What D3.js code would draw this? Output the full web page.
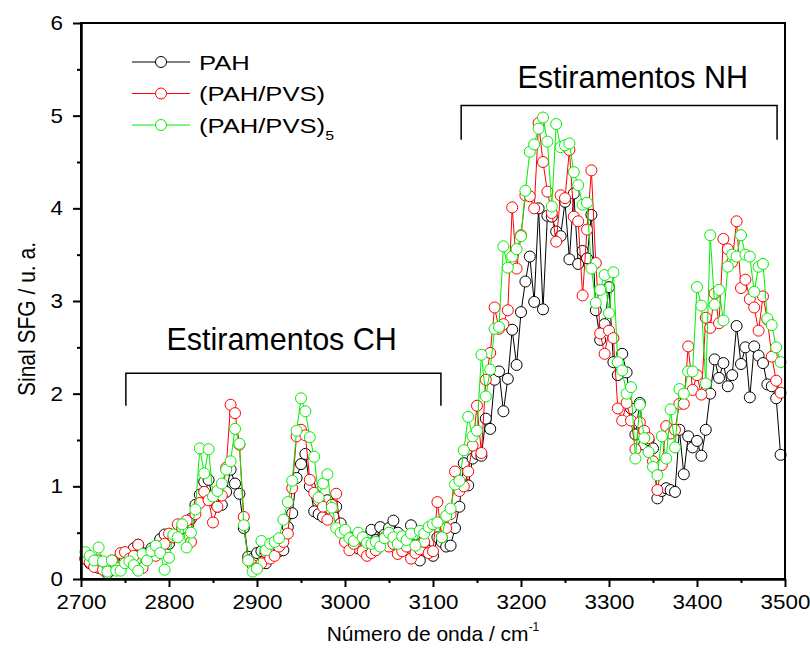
<!DOCTYPE html>
<html>
<head>
<meta charset="utf-8">
<script src="https://cdn.jsdelivr.net/npm/d3@7"></script>
<style>
  html, body { margin: 0; padding: 0; background: #fff; }
  svg { display: block; font-family: "Liberation Sans", Arial, sans-serif; }
</style>
</head>
<body>
<svg id="chart" width="810" height="660"></svg>
<script>
// ---- data ----
const wavenumbers = [
  2705,2710,2715,2720,2725,2730,2735,2740,2745,2750,
  2755,2760,2765,2770,2775,2780,2785,2790,2795,2800,
  2805,2810,2815,2820,2825,2830,2835,2840,2845,2850,
  2855,2860,2865,2870,2875,2880,2885,2890,2895,2900,
  2905,2910,2915,2920,2925,2930,2935,2940,2945,2950,
  2955,2960,2965,2970,2975,2980,2985,2990,2995,3000,
  3005,3010,3015,3020,3025,3030,3035,3040,3045,3050,
  3055,3060,3065,3070,3075,3080,3085,3090,3095,3100,
  3105,3110,3115,3120,3125,3130,3135,3140,3145,3150,
  3155,3160,3165,3170,3175,3180,3185,3190,3195,3200,
  3205,3210,3215,3220,3225,3230,3235,3240,3245,3250,
  3255,3260,3265,3270,3275,3280,3285,3290,3295,3300,
  3305,3310,3315,3320,3325,3330,3335,3340,3345,3350,
  3355,3360,3365,3370,3375,3380,3385,3390,3395,3400,
  3405,3410,3415,3420,3425,3430,3435,3440,3445,3450,
  3455,3460,3465,3470,3475,3480,3485,3490,3495
];
const pah = [
  0.22,0.17,0.15,0.12,0.14,0.06,0.18,0.20,0.17,0.22,
  0.25,0.33,0.37,0.28,0.27,0.33,0.30,0.43,0.48,0.38,
  0.45,0.50,0.55,0.58,0.65,0.80,0.91,1.05,1.07,0.85,
  0.78,0.80,0.94,1.18,1.03,0.92,0.55,0.24,0.22,0.28,
  0.30,0.17,0.30,0.33,0.30,0.31,0.56,0.71,1.09,1.24,
  1.35,1.00,0.73,0.70,0.67,0.85,0.80,0.78,0.60,0.48,
  0.45,0.40,0.33,0.36,0.45,0.53,0.42,0.56,0.48,0.55,
  0.63,0.50,0.45,0.42,0.58,0.48,0.20,0.35,0.30,0.25,
  0.45,0.40,0.35,0.36,0.55,0.78,1.25,1.01,1.30,1.35,
  1.33,1.73,1.62,2.15,2.24,1.81,2.16,2.69,2.31,2.88,
  3.21,3.48,2.99,4.00,2.91,3.92,3.91,3.75,3.70,4.07,
  3.45,4.16,3.40,3.54,3.46,3.93,2.90,2.58,2.75,3.15,
  2.34,2.20,2.43,2.23,1.84,1.56,1.90,1.45,1.50,1.41,
  0.87,0.95,0.98,0.96,0.94,1.61,1.13,1.54,1.42,1.49,
  1.33,1.61,2.00,2.37,2.17,2.33,2.08,2.20,2.73,2.32,
  2.50,1.96,2.51,2.41,2.33,2.10,2.08,1.95,1.34
];
const pahPvs = [
  0.22,0.18,0.13,0.20,0.10,0.15,0.20,0.12,0.28,0.29,
  0.22,0.25,0.37,0.12,0.22,0.30,0.25,0.35,0.38,0.49,
  0.45,0.59,0.55,0.63,0.40,0.70,0.82,0.94,0.85,0.61,
  0.78,0.90,1.20,1.88,1.79,1.45,0.67,0.20,0.15,0.12,
  0.17,0.29,0.22,0.25,0.35,0.40,0.49,0.98,1.54,1.61,
  1.55,1.07,0.93,0.85,0.78,0.64,0.80,0.92,0.51,0.40,
  0.31,0.38,0.46,0.30,0.25,0.28,0.31,0.40,0.45,0.35,
  0.38,0.27,0.30,0.35,0.22,0.28,0.32,0.40,0.28,0.30,
  0.83,0.45,0.55,0.70,1.16,0.95,1.00,1.16,1.44,1.87,
  1.36,2.15,2.44,2.93,2.70,2.75,2.90,4.01,3.35,3.71,
  4.14,4.13,4.00,4.92,4.50,4.18,3.95,3.64,4.14,4.11,
  4.63,3.91,3.86,3.06,3.77,4.41,3.41,2.65,2.43,2.68,
  2.60,1.84,1.71,1.90,1.71,1.40,1.69,1.60,1.52,1.27,
  0.96,1.23,1.65,1.57,1.61,1.89,1.89,2.51,2.04,2.20,
  1.99,2.82,2.71,3.08,2.76,3.67,3.56,3.42,3.86,3.14,
  3.23,3.02,2.93,2.68,3.05,2.80,2.40,2.14,2.01
];
const pahPvs5 = [
  0.29,0.25,0.20,0.34,0.19,0.08,0.20,0.09,0.09,0.17,
  0.19,0.15,0.09,0.27,0.20,0.30,0.36,0.28,0.10,0.23,
  0.48,0.45,0.59,0.34,0.50,0.75,1.41,1.14,1.40,0.89,
  0.95,1.03,1.18,1.27,1.62,1.46,0.58,0.20,0.08,0.11,
  0.41,0.31,0.38,0.40,0.44,0.64,0.83,1.06,1.60,1.95,
  1.81,1.53,1.32,0.88,1.03,1.13,0.77,0.55,0.50,0.53,
  0.44,0.41,0.50,0.45,0.39,0.38,0.40,0.35,0.44,0.50,
  0.45,0.38,0.46,0.42,0.49,0.36,0.52,0.49,0.56,0.59,
  0.61,0.45,0.68,0.76,1.02,1.06,1.39,1.75,1.54,1.60,
  2.42,1.97,2.26,2.70,2.72,3.59,3.36,3.48,3.56,3.70,
  4.19,4.61,4.69,4.86,4.98,4.72,4.02,4.91,4.66,4.68,
  4.70,4.39,4.25,4.04,4.06,3.35,2.98,3.12,3.28,2.87,
  3.31,2.34,2.25,2.00,2.07,1.30,1.88,1.52,1.37,1.21,
  1.12,1.54,1.30,1.83,1.42,2.05,2.00,2.24,2.24,3.15,
  2.95,2.11,3.71,2.96,3.12,2.79,3.37,3.50,3.48,3.71,
  3.50,3.48,3.10,3.37,3.40,2.81,2.74,2.50,2.34
];
const seriesNames = ["PAH", "(PAH/PVS)", "(PAH/PVS)"];
const seriesSubs = ["", "", "5"];
const seriesColors = ["#000000", "#ff0000", "#00f000"];
const xTicks = [2700, 2800, 2900, 3000, 3100, 3200, 3300, 3400, 3500];
const yTicks = [0, 1, 2, 3, 4, 5, 6];
const xDomain = [2700, 3500];
const yDomain = [0, 6];
// annotation brackets (data units): [x0, x1, yTop, yBottom, label, labelX, labelY]
const brackets = [
  [2751, 3109, 2.22, 1.87, "Estiramentos CH", 2928, 2.47],
  [3132, 3491, 5.11, 4.74, "Estiramentos NH", 3327, 5.30]
];

// ---- drawing ----
const svg = d3.select("#chart");
const L = 81, R = 785, T = 23, B = 579;
const x = d3.scaleLinear().domain(xDomain).range([L, R]);
const y = d3.scaleLinear().domain(yDomain).range([B, T]);

const allSeries = [pah, pahPvs, pahPvs5];

const plot = svg.append("g");
allSeries.forEach((vals, si) => {
  const pts = wavenumbers.map((w, i) => [w, vals[i]]);
  plot.append("path")
    .datum(pts)
    .attr("fill", "none")
    .attr("stroke", seriesColors[si])
    .attr("stroke-width", 1)
    .attr("d", d3.line().x(d => x(d[0])).y(d => y(d[1])));
  plot.selectAll(null)
    .data(pts)
    .enter().append("circle")
    .attr("cx", d => x(d[0]))
    .attr("cy", d => y(d[1]))
    .attr("r", 5.5)
    .attr("fill", "#fff")
    .attr("stroke", seriesColors[si])
    .attr("stroke-width", 1);
});

// frame
svg.append("rect")
  .attr("x", L).attr("y", T).attr("width", R - L).attr("height", B - T)
  .attr("fill", "none").attr("stroke", "#000").attr("stroke-width", 2);

// axes
const xMinor = d3.range(2750, 3500, 100);
const yMinor = d3.range(0.5, 6, 1);
const xAxis = svg.append("g").attr("transform", `translate(0,${B})`)
  .call(d3.axisBottom(x).tickValues(xTicks).tickFormat(d3.format("d")).tickSize(8).tickSizeOuter(0).tickPadding(8));
const xAxisMinor = svg.append("g").attr("transform", `translate(0,${B})`)
  .call(d3.axisBottom(x).tickValues(xMinor).tickFormat("").tickSize(4).tickSizeOuter(0));
const yAxis = svg.append("g").attr("transform", `translate(${L},0)`)
  .call(d3.axisLeft(y).tickValues(yTicks).tickFormat(d3.format("d")).tickSize(8).tickSizeOuter(0).tickPadding(8));
const yAxisMinor = svg.append("g").attr("transform", `translate(${L},0)`)
  .call(d3.axisLeft(y).tickValues(yMinor).tickFormat("").tickSize(4).tickSizeOuter(0));
[xAxis, xAxisMinor, yAxis, yAxisMinor].forEach(g => {
  g.select(".domain").attr("stroke", "#000").attr("stroke-width", 2);
  g.selectAll(".tick line").attr("stroke", "#000").attr("stroke-width", 2);
  g.selectAll(".tick text").attr("font-family", "Liberation Sans, Arial, sans-serif")
    .attr("font-size", 20).attr("fill", "#000")
    .attr("transform", "scale(1.12,1)");
});

// axis titles
const xt = svg.append("text")
  .attr("x", (L + R) / 2).attr("y", 641)
  .attr("text-anchor", "middle").attr("font-size", 21).attr("fill", "#000");
xt.append("tspan").text("Número de onda / cm");
xt.append("tspan").attr("dy", -10).attr("font-size", 12).text("-1");

svg.append("text")
  .attr("transform", `translate(35,319) scale(1.18,1) rotate(-90)`)
  .attr("text-anchor", "middle").attr("font-size", 21).attr("fill", "#000")
  .text("Sinal SFG / u. a.");

// brackets
brackets.forEach(b => {
  const [x0, x1, yt, yb, label, lx, ly] = b;
  svg.append("path")
    .attr("d", `M${x(x0)},${y(yb)}V${y(yt)}H${x(x1)}V${y(yb)}`)
    .attr("fill", "none").attr("stroke", "#000").attr("stroke-width", 1.5);
  svg.append("text")
    .attr("x", x(lx)).attr("y", y(ly))
    .attr("text-anchor", "middle").attr("font-size", 30.5).attr("fill", "#000")
    .text(label);
});

// legend
const legend = svg.append("g");
seriesNames.forEach((name, i) => {
  const cy = 62 + i * 31.5;
  legend.append("line").attr("x1", 132).attr("x2", 190).attr("y1", cy).attr("y2", cy)
    .attr("stroke", seriesColors[i]).attr("stroke-width", 1);
  legend.append("circle").attr("cx", 161).attr("cy", cy).attr("r", 5.5)
    .attr("fill", "#fff").attr("stroke", seriesColors[i]).attr("stroke-width", 1);
  const t = legend.append("text")
    .attr("transform", `translate(199,${cy + 7.5}) scale(1.22,1)`)
    .attr("font-size", 21).attr("fill", "#000");
  t.append("tspan").text(name);
  if (seriesSubs[i]) t.append("tspan").attr("dy", 7).attr("font-size", 13).text(seriesSubs[i]);
});
</script>
</body>
</html>
